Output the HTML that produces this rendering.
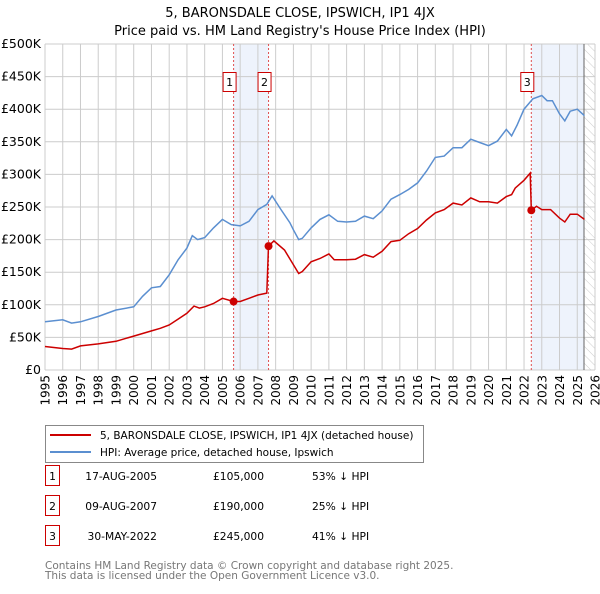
<!DOCTYPE html>
<html><head><meta charset="utf-8"><style>
body{margin:0;background:#fff;font-family:"DejaVu Sans","Liberation Sans",sans-serif;}
svg text{font-family:"DejaVu Sans","Liberation Sans",sans-serif;}
</style></head><body>
<svg id="c" width="600" height="590" viewBox="0 0 600 590" xmlns="http://www.w3.org/2000/svg">
<defs><pattern id="hatch" width="6" height="6" patternUnits="userSpaceOnUse" patternTransform="rotate(-45)"><line x1="0" y1="0" x2="0" y2="6" stroke="#ccc" stroke-width="1"/></pattern></defs>
<text x="300" y="17" text-anchor="middle" font-size="13">5, BARONSDALE CLOSE, IPSWICH, IP1 4JX</text>
<text x="300" y="35" text-anchor="middle" font-size="13">Price paid vs. HM Land Registry's House Price Index (HPI)</text>
<g id="plot"></g>
<g>
<rect x="45.5" y="425.5" width="378" height="37" fill="#fff" stroke="#888"/>
<line x1="50" y1="435" x2="91" y2="435" stroke="#cc0000" stroke-width="2"/>
<text x="100" y="439" font-size="10.5">5, BARONSDALE CLOSE, IPSWICH, IP1 4JX (detached house)</text>
<line x1="50" y1="452" x2="91" y2="452" stroke="#5b8fd0" stroke-width="2"/>
<text x="100" y="456" font-size="10.5">HPI: Average price, detached house, Ipswich</text>
</g>
<g id="table" font-size="10.7"></g>
<text x="45" y="569" font-size="10.5" fill="#777">Contains HM Land Registry data © Crown copyright and database right 2025.</text>
<text x="45" y="579" font-size="10.5" fill="#777">This data is licensed under the Open Government Licence v3.0.</text>
</svg>
<script>
const hpiYears=[1995,1996,1996.5,1997,1998,1999,2000,2000.5,2001,2001.5,2002,2002.5,2003,2003.3,2003.6,2004,2004.5,2005,2005.5,2006,2006.5,2007,2007.5,2007.8,2008.3,2008.8,2009,2009.3,2009.5,2010,2010.5,2011,2011.5,2012,2012.5,2013,2013.5,2014,2014.5,2015,2015.5,2016,2016.5,2017,2017.5,2018,2018.5,2019,2019.5,2020,2020.5,2021,2021.3,2021.6,2022,2022.5,2023,2023.3,2023.6,2024,2024.3,2024.6,2025,2025.4];
const hpiValues=[74,77,72,74,82,92,97,113,126,128,146,169,187,206,200,203,218,231,223,221,228,246,254,267,246,226,215,200,202,218,231,238,228,227,228,236,232,244,262,269,277,287,305,326,328,341,341,354,349,344,351,369,359,375,400,416,421,413,413,393,382,397,400,390];
const priceYears=[1995,1996,1996.5,1997,1998,1999,2000,2000.5,2001,2001.5,2002,2002.5,2003,2003.4,2003.7,2004,2004.5,2005,2005.63,2006,2006.5,2007,2007.5,2007.6,2007.9,2008.5,2008.9,2009.3,2009.5,2010,2010.5,2011,2011.3,2012,2012.5,2013,2013.5,2014,2014.5,2015,2015.5,2016,2016.5,2017,2017.5,2018,2018.5,2019,2019.5,2020,2020.5,2021,2021.3,2021.5,2022,2022.35,2022.41,2022.7,2023,2023.5,2024,2024.3,2024.6,2025,2025.4];
const priceValues=[36,33,32,37,40,44,52,56,60,64,69,78,87,98,95,97,102,110,105,105,110,115,118,190,198,184,166,148,151,166,171,178,169,169,170,177,173,182,197,199,209,217,230,241,246,256,253,264,258,258,256,266,269,279,291,302,245,251,246,246,233,227,239,239,231];
const saleLabels=["1","2","3"];
const saleYears=[2005.63,2007.6,2022.41];
const saleValues=[105,190,245];
const saleDates=["17-AUG-2005","09-AUG-2007","30-MAY-2022"];
const salePrices=["£105,000","£190,000","£245,000"];
const saleDiffs=["53% ↓ HPI","25% ↓ HPI","41% ↓ HPI"];
const yTicks=[0,50,100,150,200,250,300,350,400,450,500];
const yTickLabels=["£0","£50K","£100K","£150K","£200K","£250K","£300K","£350K","£400K","£450K","£500K"];
const xTicks=[1995,1996,1997,1998,1999,2000,2001,2002,2003,2004,2005,2006,2007,2008,2009,2010,2011,2012,2013,2014,2015,2016,2017,2018,2019,2020,2021,2022,2023,2024,2025,2026];
const dataEnd=2025.38;

const NS="http://www.w3.org/2000/svg";
const X0=45,X1=595,Y0=370,Y1=44;
const x=t=>X0+(t-1995)/(2026-1995)*(X1-X0);
const y=v=>Y0-v/500*(Y0-Y1);
const plot=document.getElementById('plot');
function mk(tag,attrs,parent){const e=document.createElementNS(NS,tag);for(const k in attrs)e.setAttribute(k,attrs[k]);(parent||plot).appendChild(e);return e;}

let r=mk('rect',{x:x(saleYears[0]),y:Y1,width:x(saleYears[1])-x(saleYears[0]),height:Y0-Y1,fill:'#eef3fc'});


r=mk('rect',{x:x(saleYears[2]),y:Y1,width:x(dataEnd)-x(saleYears[2]),height:Y0-Y1,fill:'#eef3fc'});


r=mk('rect',{x:x(dataEnd),y:Y1,width:X1-x(dataEnd),height:Y0-Y1,fill:'url(#hatch)'});



yTicks.forEach((v,i)=>{
 let l=mk('line',{x1:X0,x2:X1,y1:y(v),y2:y(v),stroke:'#ccc','stroke-width':1});
 
 
 let t=mk('text',{x:X0-4,y:y(v)+4,'text-anchor':'end','font-size':12.5});
 t.textContent=yTickLabels[i];
 
 
});
xTicks.forEach(v=>{
 let l=mk('line',{x1:x(v),x2:x(v),y1:Y1,y2:Y0,stroke:'#ccc','stroke-width':1});
 
 
 let t=mk('text',{x:0,y:0,'text-anchor':'end','font-size':12,transform:`translate(${x(v)+4.5},${Y0+5}) rotate(-90)`});
 t.textContent=String(v);
 
 
});
let el=mk('line',{x1:x(dataEnd),x2:x(dataEnd),y1:Y1,y2:Y0,stroke:'#666','stroke-width':1});



saleYears.forEach((s,i)=>{
 let l=mk('line',{x1:x(s),x2:x(s),y1:Y1,y2:Y0,stroke:'#e05050','stroke-width':1,'stroke-dasharray':'2,2'});
 
 
});

function path(xs,vs){return xs.map((t,i)=>(i?'L':'M')+x(t).toFixed(1)+','+y(vs[i]).toFixed(1)).join('');}
let hp=mk('path',{d:path(hpiYears,hpiValues),fill:'none',stroke:'#5b8fd0','stroke-width':1.5});


let pp=mk('path',{d:path(priceYears,priceValues),fill:'none',stroke:'#cc0000','stroke-width':1.5});



saleYears.forEach((s,i)=>{
 let c=mk('circle',{cx:x(s),cy:y(saleValues[i]),r:4,fill:'#cc0000'});
 
 
 let g=mk('g',{});
 
 
 mk('rect',{x:x(s)-10.5,y:72.5,width:13,height:19,fill:'#fff',stroke:'#cc0000'},g);
 let t=mk('text',{x:x(s)-4,y:86,'text-anchor':'middle','font-size':11},g);
 t.textContent=saleLabels[i];
});

const tb=document.getElementById('table');
saleLabels.forEach((lab,i)=>{
 const yy=483+i*30;
 let g=mk('g',{},tb);
 
 
 mk('rect',{x:45.5,y:yy-17.5,width:14,height:20,fill:'#fff',stroke:'#cc0000'},g);
 let t=mk('text',{x:52.5,y:yy-3,'text-anchor':'middle'},g);t.textContent=lab;
 t=mk('text',{x:157,y:yy-3,'text-anchor':'end'},g);t.textContent=saleDates[i];
 t=mk('text',{x:264,y:yy-3,'text-anchor':'end'},g);t.textContent=salePrices[i];
 t=mk('text',{x:312,y:yy-3},g);t.textContent=saleDiffs[i];
});
</script>
</body></html>
